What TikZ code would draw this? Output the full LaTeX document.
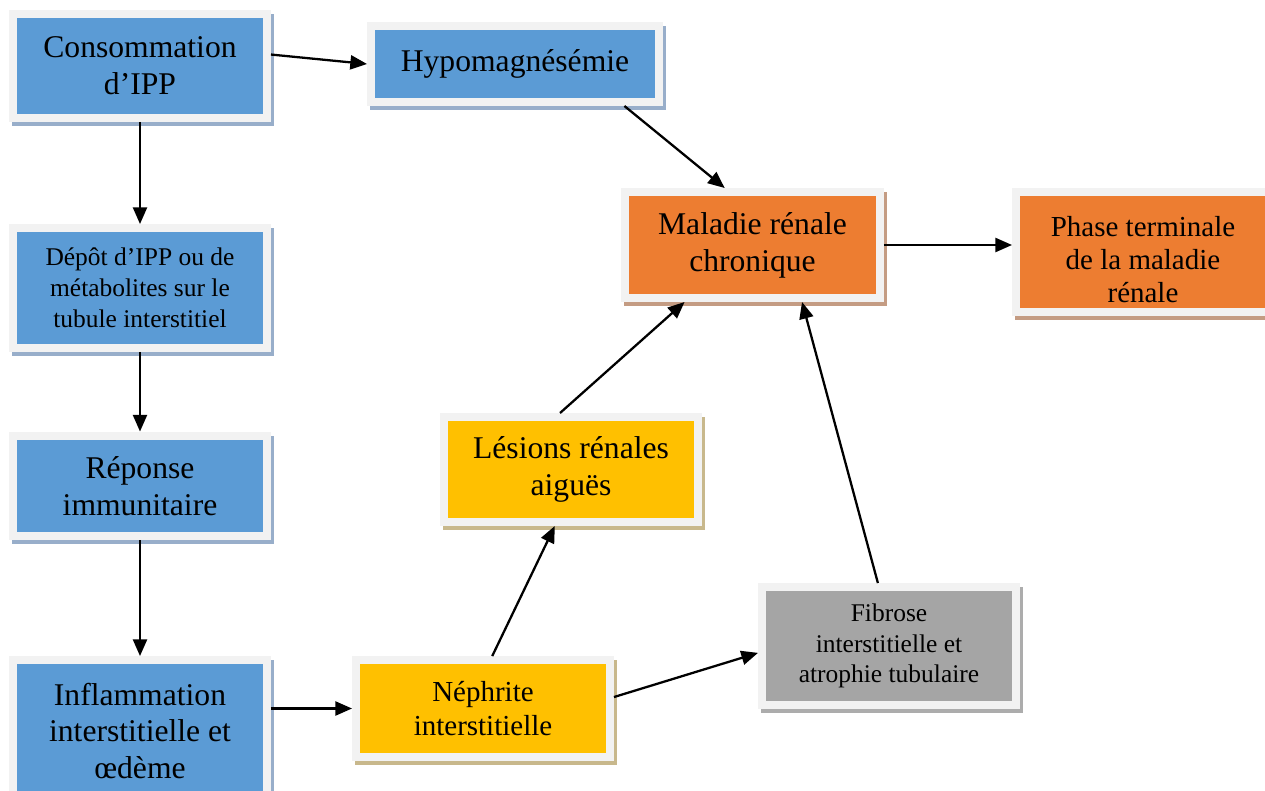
\documentclass[tikz,border=0pt]{standalone}
\usepackage{fontspec}
\setmainfont{Liberation Serif}
\usetikzlibrary{arrows.meta,shadows}
\definecolor{rim}{HTML}{F2F2F2}
\definecolor{wordblue}{HTML}{5B9BD5}
\definecolor{wordorange}{HTML}{ED7D31}
\definecolor{wordgold}{HTML}{FFC000}
\definecolor{wordgrey}{HTML}{A5A5A5}
\definecolor{blueshade}{HTML}{98AECA}
\definecolor{orangeshade}{HTML}{C49C83}
\definecolor{goldshade}{HTML}{C8B88C}
\definecolor{greyshade}{HTML}{ACACAC}
\tikzstyle{stage}=[
	rectangle,
	draw=rim,
	line width=0.16cm,
	minimum width=5.08cm,
	align=center,
	inner sep=1pt,
	font=\fontsize{18}{21}\selectfont
]
\tikzstyle{factor}=[
	stage,
	fill=wordblue,
	drop shadow={shadow xshift=0.06cm, shadow yshift=-0.08cm, opacity=1,
		line width=0.16cm, fill=blueshade, draw=blueshade}
]
\tikzstyle{outcome}=[
	stage,
	fill=wordorange,
	drop shadow={shadow xshift=0.06cm, shadow yshift=-0.08cm, opacity=1,
		line width=0.16cm, fill=orangeshade, draw=orangeshade}
]
\tikzstyle{damage}=[
	stage,
	fill=wordgold,
	drop shadow={shadow xshift=0.06cm, shadow yshift=-0.08cm, opacity=1,
		line width=0.16cm, fill=goldshade, draw=goldshade}
]
\tikzstyle{scar}=[
	stage,
	fill=wordgrey,
	drop shadow={shadow xshift=0.06cm, shadow yshift=-0.08cm, opacity=1,
		line width=0.16cm, fill=greyshade, draw=greyshade}
]
\tikzstyle{midtext}=[font=\fontsize{16.5}{19}\selectfont]
\tikzstyle{smalltext}=[font=\fontsize{14.5}{17.5}\selectfont]
\tikzstyle{effect}=[
	->,
	>={Triangle[length=9.5pt,width=8pt]},
	line width=1.3pt
]

\begin{document}
\begin{tikzpicture}[x=0.02cm,y=-0.02cm]
\useasboundingbox (0,0) rectangle (1265,791);
% left column
\node [factor, minimum height=2.08cm] (Consommation) at (140,66) {Consommation\\d’IPP};
\node [factor, smalltext, minimum height=2.4cm] (Depot) at (140,288) {Dépôt d’IPP ou de\\métabolites sur le\\tubule interstitiel};
\node [factor, minimum height=2.02cm] (Reponse) at (140,486) {Réponse\\immunitaire};
\node [factor, minimum height=2.84cm] (Inflammation) at (140,731) {Inflammation\\interstitielle et\\œdème};
% top
\node [factor, minimum width=5.76cm, minimum height=1.52cm] (Hypo) at (515,64) {Hypomagnésémie};
% middle
\node [damage, midtext, minimum height=1.94cm] (Nephrite) at (483,708.5) {Néphrite\\interstitielle};
\node [damage, minimum height=2.1cm] (Lesions) at (571,469.5) {Lésions rénales\\aiguës};
\node [scar, smalltext, minimum height=2.36cm] (Fibrose) at (889,646) {Fibrose\\interstitielle et\\atrophie tubulaire};
% kidney disease
\node [outcome, minimum width=5.1cm, minimum height=2.12cm] (Maladie) at (752.5,245) {Maladie rénale\\chronique};
\node [outcome, midtext, minimum height=2.4cm] (Phase) at (1143,252) {\rule{0pt}{20pt}Phase terminale\\de la maladie\\rénale};

\draw [effect] (Consommation.5) -- (Hypo.west);
\draw [effect] (Consommation) -- (Depot);
\draw [effect] (Depot) -- (Reponse);
\draw [effect] (Reponse) -- (Inflammation);
\draw [effect] (Inflammation.east |- Nephrite.west) -- (Nephrite.west);
\draw [effect] (Nephrite.80) -- (Lesions.254);
\draw [effect] (Nephrite.5) -- (Fibrose.183);
\draw [effect] (Lesions.101) -- (Maladie.220);
\draw [effect] (Fibrose.100) -- (Maladie.311);
\draw [effect] (Hypo.-21) -- (Maladie.116);
\draw [effect] (Maladie.east) -- (Maladie.east -| Phase.west);
\end{tikzpicture}
\end{document}
